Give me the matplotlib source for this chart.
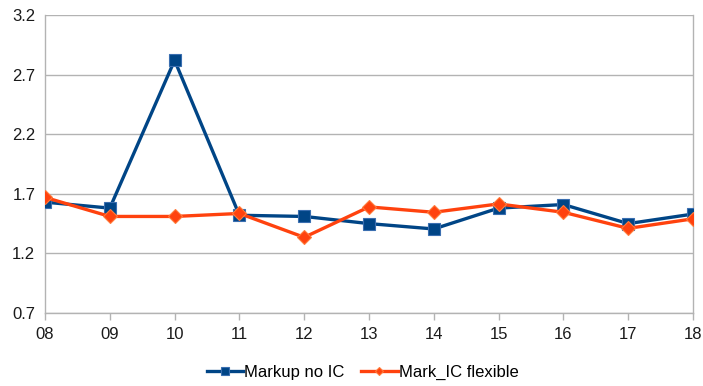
import matplotlib
matplotlib.use("Agg")
import matplotlib.pyplot as plt

categories = ["08", "09", "10", "11", "12", "13", "14", "15", "16", "17", "18"]
markup_no_ic = [1.63, 1.58, 2.82, 1.52, 1.51, 1.45, 1.405, 1.58, 1.61, 1.45, 1.53]
mark_ic_flexible = [1.67, 1.51, 1.51, 1.535, 1.335, 1.59, 1.545, 1.615, 1.545, 1.41, 1.49]
y_ticks = [0.7, 1.2, 1.7, 2.2, 2.7, 3.2]

plt.rcParams["font.family"] = ["Liberation Sans", "DejaVu Sans"]

fig = plt.figure(figsize=(7.03, 3.86), dpi=100)
ax = fig.add_axes([45 / 703, 1 - 313 / 386, 648 / 703, 298 / 386])

x = list(range(len(categories)))
ax.plot(x, markup_no_ic, color="#004586", lw=2.4, marker="s", ms=9,
        mec="#3a6eb0", mew=0.8, label="Markup no IC", zorder=3)
ax.plot(x, mark_ic_flexible, color="#ff420e", lw=2.4, marker="D", ms=7.5,
        mec="#ff7a3a", mew=0.8, label="Mark_IC flexible", zorder=4)

ax.set_xlim(0, len(categories) - 1)
ax.set_ylim(0.7, 3.2)
ax.set_yticks(y_ticks)
ax.set_yticklabels([f"{v:.1f}" for v in y_ticks])
ax.set_xticks(x)
ax.set_xticklabels(categories)

ax.grid(axis="y", color="#b3b3b3", lw=1)
ax.set_axisbelow(True)
for side in ["left", "right", "bottom"]:
    ax.spines[side].set_color("#b3b3b3")
    ax.spines[side].set_linewidth(1)
ax.spines["top"].set_visible(False)

ax.tick_params(axis="x", colors="#b3b3b3", direction="out", length=5, width=1,
               labelcolor="#1a1a1a", labelsize=12, pad=5)
ax.tick_params(axis="y", length=0, labelcolor="#1a1a1a", labelsize=12, pad=7)

ax.legend(loc="upper center", bbox_to_anchor=(0.49, -0.125), ncol=2, frameon=False,
          fontsize=12, handlelength=2.2, handletextpad=0.05, columnspacing=1.0,
          markerscale=0.6)

fig.savefig("out.png", dpi=100)
